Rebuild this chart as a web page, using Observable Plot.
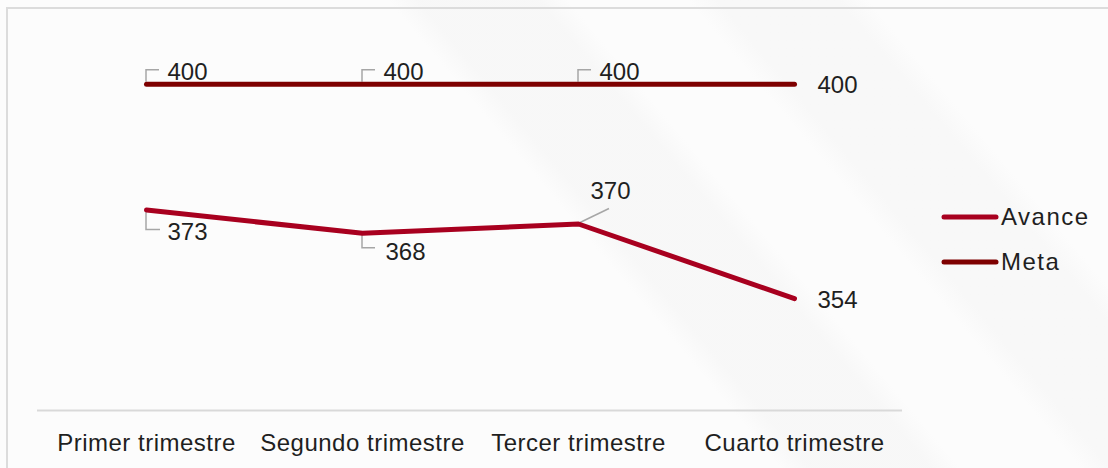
<!DOCTYPE html>
<html>
<head>
<meta charset="utf-8">
<script src="https://cdn.jsdelivr.net/npm/d3@7"></script>
<script src="https://cdn.jsdelivr.net/npm/@observablehq/plot@0.6"></script>
<style>
  body { margin: 0; background: #fff; }
  #wrap {
    position: relative; width: 1108px; height: 468px; overflow: hidden;
    background:
      linear-gradient(50deg, rgba(255,255,255,0) 52%, rgba(243,243,243,0.5) 54%, rgba(243,243,243,0.5) 62%, rgba(255,255,255,0) 64%),
      linear-gradient(50deg, rgba(255,255,255,0) 72%, rgba(244,244,244,0.5) 74%, rgba(244,244,244,0.5) 82%, rgba(255,255,255,0) 84%),
      #fcfcfc;
    font-family: "Liberation Sans", Arial, sans-serif;
  }
  #frame { position: absolute; left: 6px; top: 7px; width: 1200px; height: 600px;
    border-left: 2px solid #dcdcdc; border-top: 2px solid #dcdcdc; box-sizing: border-box; }
  #chart { position: absolute; left: 0; top: 0; }
  #chart svg { background: transparent; }
  #legend { position: absolute; left: 0; top: 0; }
</style>
</head>
<body>
<div id="wrap">
  <div id="frame"></div>
  <div id="chart"></div>
  <svg id="legend" width="1108" height="468"></svg>
</div>
<script>
const categories = ["Primer trimestre", "Segundo trimestre", "Tercer trimestre", "Cuarto trimestre"];
const avance = [373, 368, 370, 354];
const meta = [400, 400, 400, 400];
const seriesNames = ["Avance", "Meta"];
const seriesColors = ["#A8001F", "#7E0000"];
const yDomain = [330, 410];

const rows = [];
categories.forEach((c, i) => {
  rows.push({cat: c, series: "Meta", value: meta[i], i});
  rows.push({cat: c, series: "Avance", value: avance[i], i});
});
const metaRows = rows.filter(d => d.series === "Meta");
const avRows = rows.filter(d => d.series === "Avance");

const font = "'Liberation Sans', Arial, sans-serif";
const textColor = "#1f1f1f";
const txt = (data, opts) => Plot.text(data, {x: "cat", y: "value", text: d => String(d.value),
  fill: textColor, fontSize: 24, textAnchor: "start", ...opts});

const plot = Plot.plot({
  width: 1108, height: 468,
  marginLeft: 37, marginRight: 206, marginTop: 37, marginBottom: 58,
  style: {fontFamily: font, background: "transparent", color: textColor},
  x: {type: "point", domain: categories, padding: 0.5, label: null},
  y: {domain: yDomain, axis: null},
  color: {domain: seriesNames, range: seriesColors},
  marks: [
    Plot.ruleY([yDomain[0]], {stroke: "#d9d9d9", strokeWidth: 2}),
    Plot.axisX({tickSize: 0, tickPadding: 23, fontSize: 24, fill: textColor, label: null}),
    Plot.line(rows, {x: "cat", y: "value", z: "series", stroke: "series", strokeWidth: 5,
      strokeLinecap: "round", strokeLinejoin: "round"}),
    txt(metaRows.filter(d => d.i < 3), {dx: 21, dy: -12}),
    txt(metaRows.filter(d => d.i === 3), {dx: 23, dy: 1}),
    txt(avRows.filter(d => d.i === 0), {dx: 21, dy: 22}),
    txt(avRows.filter(d => d.i === 1), {dx: 23, dy: 19}),
    txt(avRows.filter(d => d.i === 2), {dx: 12, dy: -33}),
    txt(avRows.filter(d => d.i === 3), {dx: 23, dy: 2})
  ]
});
document.getElementById("chart").appendChild(plot);
d3.select(plot).selectAll("g[aria-label='x-axis tick label'] text").style("letter-spacing", "0.5px");

// Leader lines, positioned with the plot's own scales
const xs = plot.scale("x"), ys = plot.scale("y");
const svg = d3.select(plot);
const g = svg.insert("g", ":first-child").attr("fill", "none").attr("stroke", "#a6a6a6").attr("stroke-width", 1.5);
metaRows.filter(d => d.i < 3).forEach(d => {
  const x = xs.apply(d.cat), y = ys.apply(d.value);
  g.append("path").attr("d", `M${x},${y - 2}V${y - 14}H${x + 13}`);
});
[[0, 20, 14], [1, 15, 13]].forEach(([i, h, w]) => {
  const d = avRows[i];
  const x = xs.apply(d.cat), y = ys.apply(d.value);
  g.append("path").attr("d", `M${x},${y + 2}V${y + h}H${x + w}`);
});
{
  const d = avRows[2];
  const x = xs.apply(d.cat), y = ys.apply(d.value);
  g.append("path").attr("d", `M${x + 2},${y - 1}L${x + 31},${y - 15}`);
}
svg.node().insertBefore(g.node(), svg.select("g[aria-label='line']").node());

// Legend
const leg = d3.select("#legend");
seriesNames.forEach((s, k) => {
  const yy = 217 + k * 45;
  leg.append("line").attr("x1", 944).attr("x2", 996).attr("y1", yy).attr("y2", yy)
    .attr("stroke", seriesColors[k]).attr("stroke-width", 5).attr("stroke-linecap", "round");
  leg.append("text").attr("x", 1001).attr("y", yy).attr("dy", "0.35em")
    .attr("font-family", font).attr("font-size", 24).attr("fill", textColor)
    .style("letter-spacing", "1.5px").text(s);
});
</script>
</body>
</html>
